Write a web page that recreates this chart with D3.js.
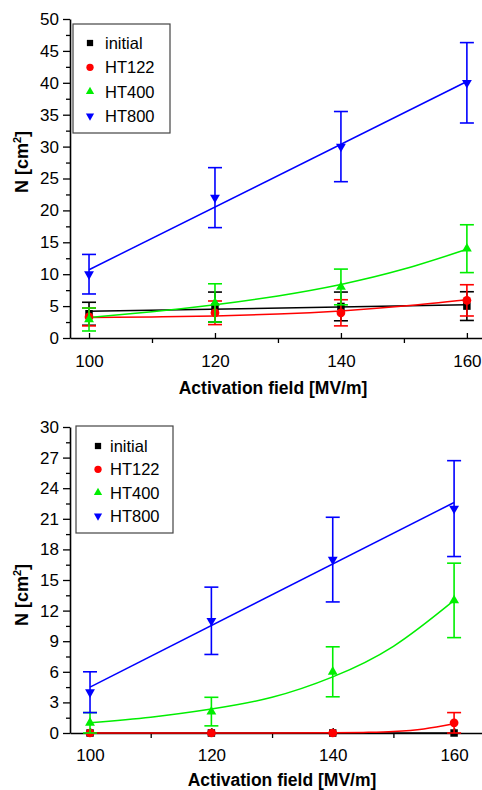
<!DOCTYPE html>
<html>
<head>
<meta charset="utf-8">
<script src="https://cdn.jsdelivr.net/npm/d3@7"></script>
<style>
  body { margin: 0; background: #fff; }
  svg text { font-family: "Liberation Sans", Arial, sans-serif; fill: #000; }
</style>
</head>
<body>
<svg id="chart" width="482" height="790"></svg>
<script>
// ---- shared ----
const xValues = [100, 120, 140, 160];
const seriesNames = ["initial", "HT122", "HT400", "HT800"];
const xTickValues = [100, 120, 140, 160];
const xMinorTickValues = [110, 130, 150];
const xTitle = "Activation field [MV/m]";

// ---- upper panel: measured densities and error bars ----
const upperInitial = [3.8, 4.85, 4.95, 5.0];
const upperInitialErr = [1.8, 2.35, 2.25, 2.25];
const upperHT122 = [3.3, 3.95, 3.95, 5.9];
const upperHT122Err = [1.4, 1.85, 2.05, 2.45];
const upperHT400 = [2.9, 5.5, 8.0, 14.0];
const upperHT400Err = [1.8, 3.0, 2.8, 3.75];
const upperHT800 = [10, 22, 30, 40];
const upperHT800Err = [3.1, 4.7, 5.5, 6.3];
// upper panel fitted curves
const linearFitX = [100, 160];
const curveFitX = [100, 110, 120, 130, 140, 150, 160];
const upperInitialFit = [4.2, 5.2];
const upperHT122Fit = [3.2, 3.3, 3.45, 3.75, 4.25, 5.0, 6.0];
const upperHT400Fit = [3.2, 4.1, 5.2, 6.6, 8.4, 10.8, 13.9];
const upperHT800Fit = [10.7, 40.2];
const upperYTicks = [0, 5, 10, 15, 20, 25, 30, 35, 40, 45, 50];

// ---- lower panel: measured densities and error bars ----
const lowerInitial = [0, 0, 0, 0];
const lowerInitialErr = [0, 0, 0, 0];
const lowerHT122 = [0, 0, 0, 1];
const lowerHT122Err = [0, 0, 0, 1];
const lowerHT400 = [1, 2.1, 6, 13];
const lowerHT400Err = [1, 1.4, 2.45, 3.65];
const lowerHT800 = [4, 11, 17, 22];
const lowerHT800Err = [2, 3.3, 4.15, 4.7];
// lower panel fitted curves
const lowerHT122FitX = [100, 130, 140, 145, 150, 155, 160];
const lowerInitialFit = [0, 0];
const lowerHT122Fit = [0, 0, 0.02, 0.06, 0.15, 0.4, 0.9];
const lowerHT400Fit = [1.0, 1.55, 2.35, 3.5, 5.5, 8.5, 13.0];
const lowerHT800Fit = [4.5, 22.6];
const lowerYTicks = [0, 3, 6, 9, 12, 15, 18, 21, 24, 27, 30];

// ---- styling ----
const colors = { initial: "#000000", HT122: "#ff0000", HT400: "#00ee00", HT800: "#0000ff" };
const shapes = {
  initial: { type: d3.symbolSquare, size: 56, rot: 0 },
  HT122: { type: d3.symbolCircle, size: 60, rot: 0 },
  HT400: { type: d3.symbolTriangle, size: 42, rot: 0 },
  HT800: { type: d3.symbolTriangle, size: 42, rot: 180 }
};

const svg = d3.select("#chart");

function drawPanel(cfg) {
  const g = svg.append("g");
  const x = d3.scaleLinear().domain(cfg.xDomain).range([70, 482]);
  const y = d3.scaleLinear().domain(cfg.yDomain).range(cfg.yRange);

  // y axis: major and minor ticks pointing out
  const yMinor = [];
  for (let i = 0; i < cfg.yTicks.length - 1; i++) yMinor.push((cfg.yTicks[i] + cfg.yTicks[i + 1]) / 2);
  g.append("g").attr("transform", "translate(70,0)")
    .call(d3.axisLeft(y).tickValues(yMinor).tickSize(4).tickFormat(""))
    .call(s => s.select(".domain").remove())
    .call(s => s.selectAll("line").attr("stroke-width", 1.3));
  const ya = g.append("g").attr("transform", "translate(70,0)")
    .call(d3.axisLeft(y).tickValues(cfg.yTicks).tickSize(7).tickSizeOuter(0).tickPadding(4));
  ya.select(".domain").attr("stroke-width", 1.6);
  ya.selectAll("line").attr("stroke-width", 1.3);
  ya.selectAll("text").attr("font-size", 17);

  // x axis: major ticks inside, minor ticks outside
  const y0 = y(cfg.yDomain[0]);
  g.append("g").attr("transform", `translate(0,${y0})`)
    .call(d3.axisBottom(x).tickValues(xMinorTickValues).tickSize(5).tickFormat(""))
    .call(s => s.select(".domain").remove())
    .call(s => s.selectAll("line").attr("stroke-width", 1.3));
  const xa = g.append("g").attr("transform", `translate(0,${y0})`)
    .call(d3.axisBottom(x).tickValues(xTickValues).tickSize(-5).tickSizeOuter(0).tickPadding(cfg.xPad));
  xa.select(".domain").attr("stroke-width", 1.6);
  xa.selectAll("line").attr("stroke-width", 1.3);
  xa.selectAll("text").attr("font-size", 17);

  // axis titles
  g.append("text").attr("x", cfg.xTitleX).attr("y", cfg.xTitleY)
    .attr("text-anchor", "middle").attr("font-weight", "bold").attr("font-size", 17.5)
    .text(xTitle);
  const yt = g.append("text")
    .attr("transform", `translate(28,${cfg.yTitleY}) rotate(-90)`)
    .attr("text-anchor", "middle").attr("font-weight", "bold").attr("font-size", 18);
  yt.append("tspan").text("N [cm");
  yt.append("tspan").attr("font-size", 11).attr("dy", -7).text("2");
  yt.append("tspan").attr("dy", 7).text("]");

  // fitted curves
  cfg.series.forEach(s => {
    const line = d3.line().x(d => x(d[0])).y(d => y(d[1]))
      .curve(s.flat ? d3.curveMonotoneX : d3.curveNatural);
    const pts = s.fitX.map((xv, i) => [xv, s.fit[i]]);
    g.append("path").attr("d", line(pts)).attr("fill", "none")
      .attr("stroke", colors[s.name]).attr("stroke-width", 1.5);
  });

  // error bars and markers
  cfg.series.forEach(s => {
    const c = colors[s.name];
    const eg = g.append("g").attr("stroke", c).attr("stroke-width", 1.6);
    xValues.forEach((xv, i) => {
      const e = s.err[i];
      if (!e) return;
      const px = x(xv), top = y(s.values[i] + e), bot = y(s.values[i] - e);
      eg.append("line").attr("x1", px).attr("x2", px).attr("y1", top).attr("y2", bot);
      eg.append("line").attr("x1", px - 7).attr("x2", px + 7).attr("y1", top).attr("y2", top);
      eg.append("line").attr("x1", px - 7).attr("x2", px + 7).attr("y1", bot).attr("y2", bot);
    });
    const sh = shapes[s.name];
    const sym = d3.symbol().type(sh.type).size(sh.size);
    xValues.forEach((xv, i) => {
      g.append("path").attr("d", sym())
        .attr("transform", `translate(${x(xv)},${y(s.values[i])}) rotate(${sh.rot})`)
        .attr("fill", c);
    });
  });

  // legend
  const L = cfg.legend;
  g.append("rect").attr("x", L.x).attr("y", L.y).attr("width", L.w).attr("height", L.h)
    .attr("fill", "#fff").attr("stroke", "#444").attr("stroke-width", 1.2);
  seriesNames.forEach((name, i) => {
    const cy = L.y + L.first + i * L.step;
    const sh = shapes[name];
    g.append("path").attr("d", d3.symbol().type(sh.type).size(sh.size * 0.7)())
      .attr("transform", `translate(${L.x + L.mx},${cy}) rotate(${sh.rot})`)
      .attr("fill", colors[name]);
    g.append("text").attr("x", L.x + L.tx).attr("y", cy).attr("dy", "0.36em")
      .attr("font-size", 16.5).text(name);
  });
}

drawPanel({
  xDomain: [96.98, 162.4], yDomain: [0, 50], yRange: [338, 19], yTicks: upperYTicks,
  xPad: 17, xTitleX: 273, xTitleY: 394, yTitleY: 162,
  legend: { x: 73, y: 24, w: 97, h: 109, first: 19, step: 24.3, mx: 17, tx: 32 },
  series: [
    { name: "initial", values: upperInitial, err: upperInitialErr, fitX: linearFitX, fit: upperInitialFit },
    { name: "HT122", values: upperHT122, err: upperHT122Err, fitX: curveFitX, fit: upperHT122Fit },
    { name: "HT400", values: upperHT400, err: upperHT400Err, fitX: curveFitX, fit: upperHT400Fit },
    { name: "HT800", values: upperHT800, err: upperHT800Err, fitX: linearFitX, fit: upperHT800Fit }
  ]
});

drawPanel({
  xDomain: [96.7, 164.6], yDomain: [0, 30], yRange: [733, 427], yTicks: lowerYTicks,
  xPad: 16, xTitleX: 282, xTitleY: 786, yTitleY: 595,
  legend: { x: 76, y: 426, w: 97, h: 107, first: 20, step: 23.3, mx: 22, tx: 34 },
  series: [
    { name: "initial", values: lowerInitial, err: lowerInitialErr, fitX: linearFitX, fit: lowerInitialFit },
    { name: "HT122", values: lowerHT122, err: lowerHT122Err, fitX: lowerHT122FitX, fit: lowerHT122Fit, flat: true },
    { name: "HT400", values: lowerHT400, err: lowerHT400Err, fitX: curveFitX, fit: lowerHT400Fit },
    { name: "HT800", values: lowerHT800, err: lowerHT800Err, fitX: linearFitX, fit: lowerHT800Fit }
  ]
});
</script>
</body>
</html>
